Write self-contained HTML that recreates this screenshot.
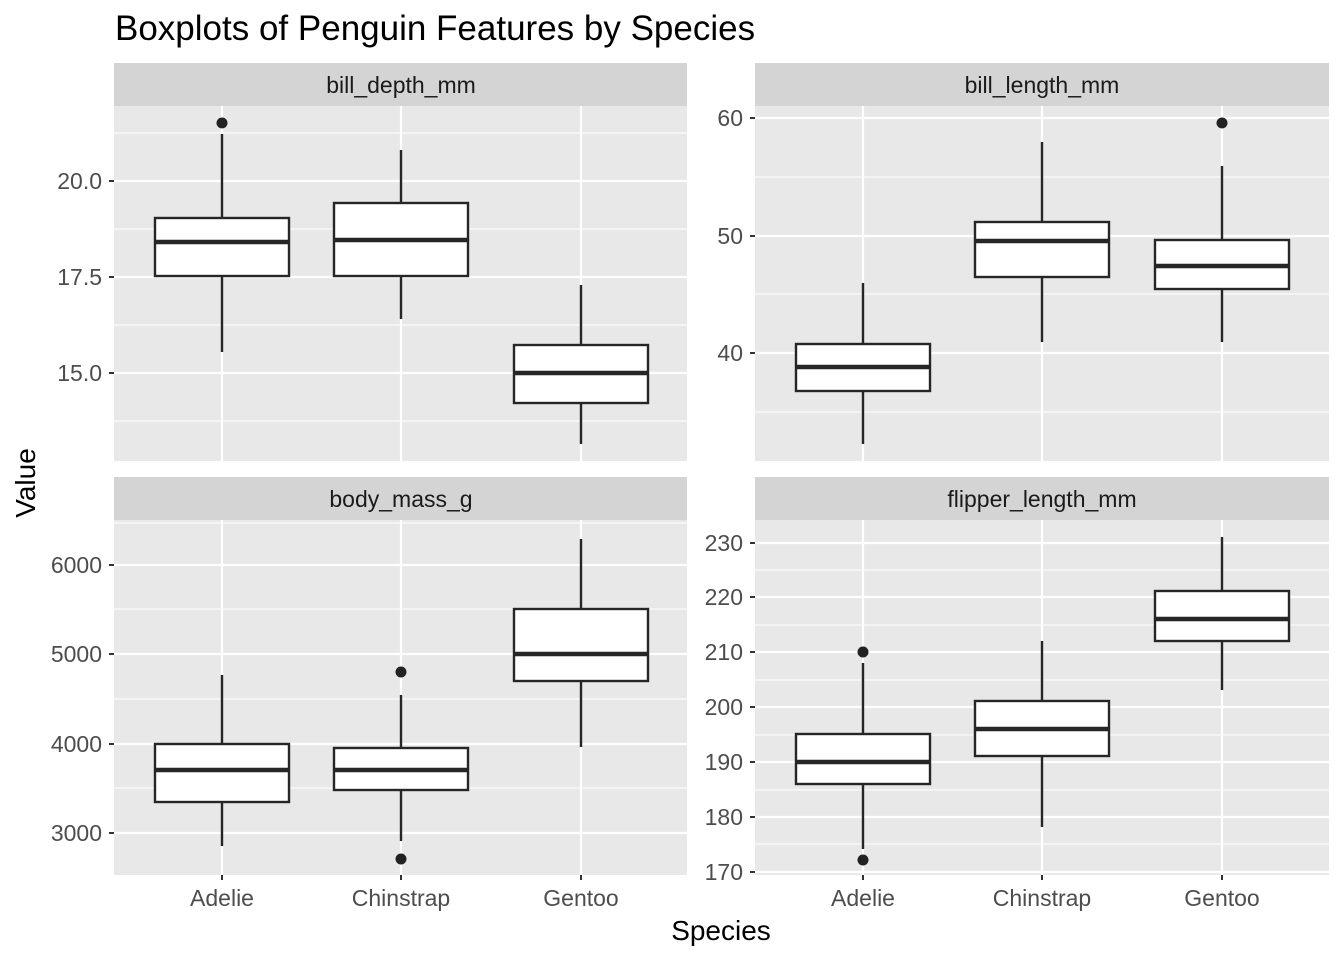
<!DOCTYPE html>
<html><head><meta charset="utf-8"><style>body{margin:0;background:#fff}svg{display:block}text{font-family:"Liberation Sans",Arial,sans-serif}</style></head>
<body>
<svg width="1344" height="960" viewBox="0 0 1344 960" xmlns="http://www.w3.org/2000/svg">
<rect width="1344" height="960" fill="#fff"/>
<text x="115" y="40" font-size="35" fill="#000">Boxplots of Penguin Features by Species</text>

<rect x="114" y="63" width="573" height="43" fill="#d4d4d4"/>
<rect x="755" y="63" width="574" height="43" fill="#d4d4d4"/>
<rect x="114" y="477" width="573" height="43" fill="#d4d4d4"/>
<rect x="755" y="477" width="574" height="43" fill="#d4d4d4"/>
<g font-size="23" fill="#1a1a1a" text-anchor="middle">
<text x="401" y="93">bill_depth_mm</text>
<text x="1042" y="93">bill_length_mm</text>
<text x="401" y="507">body_mass_g</text>
<text x="1042" y="507">flipper_length_mm</text>
</g>

<rect x="114" y="106" width="573" height="355" fill="#e8e8e8"/>
<rect x="755" y="106" width="574" height="355" fill="#e8e8e8"/>
<rect x="114" y="520" width="573" height="355" fill="#e8e8e8"/>
<rect x="755" y="520" width="574" height="355" fill="#e8e8e8"/>

<g stroke="#fff">
<g stroke-width="1.1">
<line x1="114" x2="687" y1="133" y2="133"/><line x1="114" x2="687" y1="229" y2="229"/><line x1="114" x2="687" y1="325" y2="325"/><line x1="114" x2="687" y1="421" y2="421"/>
<line x1="755" x2="1329" y1="177" y2="177"/><line x1="755" x2="1329" y1="294" y2="294"/><line x1="755" x2="1329" y1="412" y2="412"/>
<line x1="114" x2="687" y1="609" y2="609"/><line x1="114" x2="687" y1="699" y2="699"/><line x1="114" x2="687" y1="788" y2="788"/><line x1="114" x2="687" y1="523" y2="523"/>
<line x1="755" x2="1329" y1="570" y2="570"/><line x1="755" x2="1329" y1="625" y2="625"/><line x1="755" x2="1329" y1="680" y2="680"/><line x1="755" x2="1329" y1="735" y2="735"/><line x1="755" x2="1329" y1="790" y2="790"/><line x1="755" x2="1329" y1="844" y2="844"/>
</g>
<g stroke-width="2.2">
<line x1="114" x2="687" y1="181" y2="181"/><line x1="114" x2="687" y1="277" y2="277"/><line x1="114" x2="687" y1="373" y2="373"/>
<line x1="755" x2="1329" y1="118" y2="118"/><line x1="755" x2="1329" y1="236" y2="236"/><line x1="755" x2="1329" y1="353" y2="353"/>
<line x1="114" x2="687" y1="565" y2="565"/><line x1="114" x2="687" y1="654" y2="654"/><line x1="114" x2="687" y1="744" y2="744"/><line x1="114" x2="687" y1="833" y2="833"/>
<line x1="755" x2="1329" y1="543" y2="543"/><line x1="755" x2="1329" y1="597" y2="597"/><line x1="755" x2="1329" y1="652" y2="652"/><line x1="755" x2="1329" y1="707" y2="707"/><line x1="755" x2="1329" y1="762" y2="762"/><line x1="755" x2="1329" y1="817" y2="817"/><line x1="755" x2="1329" y1="872" y2="872"/>
<line x1="222" x2="222" y1="106" y2="461"/><line x1="401" x2="401" y1="106" y2="461"/><line x1="581" x2="581" y1="106" y2="461"/>
<line x1="863" x2="863" y1="106" y2="461"/><line x1="1042" x2="1042" y1="106" y2="461"/><line x1="1222" x2="1222" y1="106" y2="461"/>
<line x1="222" x2="222" y1="520" y2="875"/><line x1="401" x2="401" y1="520" y2="875"/><line x1="581" x2="581" y1="520" y2="875"/>
<line x1="863" x2="863" y1="520" y2="875"/><line x1="1042" x2="1042" y1="520" y2="875"/><line x1="1222" x2="1222" y1="520" y2="875"/>
</g>
</g>

<g stroke="#262626" stroke-width="2.4" fill="#fff">
<line x1="222" x2="222" y1="134" y2="352"/><rect x="155" y="218" width="134" height="58"/><line x1="155" x2="289" y1="242" y2="242" stroke-width="4.5"/>
<line x1="401" x2="401" y1="150" y2="319"/><rect x="334" y="203" width="134" height="73"/><line x1="334" x2="468" y1="240" y2="240" stroke-width="4.5"/>
<line x1="581" x2="581" y1="285" y2="444"/><rect x="514" y="345" width="134" height="58"/><line x1="514" x2="648" y1="373" y2="373" stroke-width="4.5"/>
<line x1="863" x2="863" y1="283" y2="444"/><rect x="796" y="344" width="134" height="47"/><line x1="796" x2="930" y1="367" y2="367" stroke-width="4.5"/>
<line x1="1042" x2="1042" y1="142" y2="342"/><rect x="975" y="222" width="134" height="55"/><line x1="975" x2="1109" y1="241" y2="241" stroke-width="4.5"/>
<line x1="1222" x2="1222" y1="166" y2="342"/><rect x="1155" y="240" width="134" height="49"/><line x1="1155" x2="1289" y1="266" y2="266" stroke-width="4.5"/>
<line x1="222" x2="222" y1="675" y2="846"/><rect x="155" y="744" width="134" height="58"/><line x1="155" x2="289" y1="770" y2="770" stroke-width="4.5"/>
<line x1="401" x2="401" y1="695" y2="841"/><rect x="334" y="748" width="134" height="42"/><line x1="334" x2="468" y1="770" y2="770" stroke-width="4.5"/>
<line x1="581" x2="581" y1="539" y2="747"/><rect x="514" y="609" width="134" height="72"/><line x1="514" x2="648" y1="654" y2="654" stroke-width="4.5"/>
<line x1="863" x2="863" y1="663" y2="849"/><rect x="796" y="734" width="134" height="50"/><line x1="796" x2="930" y1="762" y2="762" stroke-width="4.5"/>
<line x1="1042" x2="1042" y1="641" y2="827"/><rect x="975" y="701" width="134" height="55"/><line x1="975" x2="1109" y1="729" y2="729" stroke-width="4.5"/>
<line x1="1222" x2="1222" y1="537" y2="690"/><rect x="1155" y="591" width="134" height="50"/><line x1="1155" x2="1289" y1="619" y2="619" stroke-width="4.5"/>
</g>
<g fill="#222">
<circle cx="222" cy="123" r="5.5"/><circle cx="1222" cy="123" r="5.5"/>
<circle cx="401" cy="672" r="5.5"/><circle cx="401" cy="859" r="5.5"/>
<circle cx="863" cy="652" r="5.5"/><circle cx="863" cy="860" r="5.5"/>
</g>

<g stroke="#333" stroke-width="2">
<line x1="109" x2="114" y1="181" y2="181"/><line x1="109" x2="114" y1="277" y2="277"/><line x1="109" x2="114" y1="373" y2="373"/>
<line x1="750" x2="755" y1="118" y2="118"/><line x1="750" x2="755" y1="236" y2="236"/><line x1="750" x2="755" y1="353" y2="353"/>
<line x1="109" x2="114" y1="565" y2="565"/><line x1="109" x2="114" y1="654" y2="654"/><line x1="109" x2="114" y1="744" y2="744"/><line x1="109" x2="114" y1="833" y2="833"/>
<line x1="750" x2="755" y1="543" y2="543"/><line x1="750" x2="755" y1="597" y2="597"/><line x1="750" x2="755" y1="652" y2="652"/><line x1="750" x2="755" y1="707" y2="707"/><line x1="750" x2="755" y1="762" y2="762"/><line x1="750" x2="755" y1="817" y2="817"/><line x1="750" x2="755" y1="872" y2="872"/>
<line x1="222" x2="222" y1="875" y2="880"/><line x1="401" x2="401" y1="875" y2="880"/><line x1="581" x2="581" y1="875" y2="880"/>
<line x1="863" x2="863" y1="875" y2="880"/><line x1="1042" x2="1042" y1="875" y2="880"/><line x1="1222" x2="1222" y1="875" y2="880"/>
</g>
<g font-size="23" fill="#4d4d4d" text-anchor="end">
<text x="102" y="189">20.0</text><text x="102" y="285">17.5</text><text x="102" y="381">15.0</text>
<text x="743" y="126">60</text><text x="743" y="244">50</text><text x="743" y="361">40</text>
<text x="102" y="573">6000</text><text x="102" y="662">5000</text><text x="102" y="752">4000</text><text x="102" y="841">3000</text>
<text x="743" y="551">230</text><text x="743" y="605">220</text><text x="743" y="660">210</text><text x="743" y="715">200</text><text x="743" y="770">190</text><text x="743" y="825">180</text><text x="743" y="880">170</text>
</g>
<g font-size="23" fill="#4d4d4d" text-anchor="middle">
<text x="222" y="906">Adelie</text><text x="401" y="906">Chinstrap</text><text x="581" y="906">Gentoo</text>
<text x="863" y="906">Adelie</text><text x="1042" y="906">Chinstrap</text><text x="1222" y="906">Gentoo</text>
</g>
<text x="721" y="940" font-size="28" text-anchor="middle" fill="#000">Species</text>
<text transform="translate(35,483) rotate(-90)" font-size="28" text-anchor="middle" fill="#000">Value</text>
</svg>
</body></html>
